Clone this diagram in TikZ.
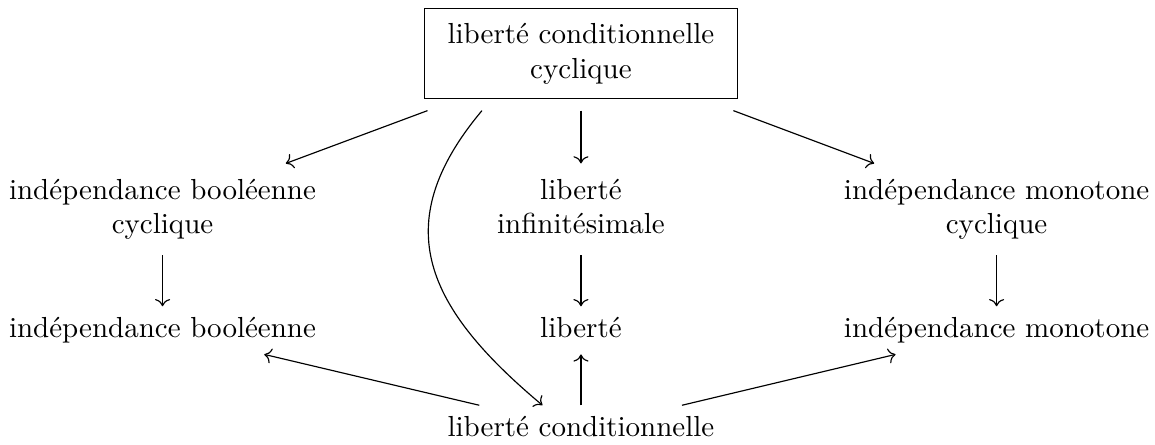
\documentclass[tikz,border=0pt]{standalone}
\usetikzlibrary{arrows.meta,positioning}
\tikzset{
  cell/.style={inner xsep=4.3pt,inner ysep=3.66pt,text height=6.94pt,text depth=1.94pt},
  celltwo/.style={inner xsep=4.3pt,minimum height=31.3pt,align=center},
  topbox/.style={draw,align=center,inner xsep=8pt,inner ysep=4.9pt,outer sep=4.3pt},
}

\begin{document}
\begin{tikzpicture}[scale=1.0]
\useasboundingbox (0,0) rectangle (14.0,-5.382);
% top box
\node[topbox] (lcc) at (7.042,-0.648) {liberté conditionnelle\\cyclique};

% cyclic / infinitesimal row
\node[celltwo] (ibc) at (1.97,-2.538) {indépendance booléenne\\cyclique};
\node[celltwo] (linf) at (7.042,-2.538) {liberté\\infinitésimale\vphantom{y}};
\node[celltwo] (imc) at (12.08,-2.538) {indépendance monotone\\cyclique};

% plain row
\node[cell] (ib) at (1.97,-4.004) {indépendance booléenne};
\node[cell] (lib) at (7.042,-4.004) {liberté};
\node[cell] (im) at (12.08,-4.004) {indépendance monotone};

% bottom
\node[cell] (lc) at (7.042,-5.204) {liberté conditionnelle};

\draw[->] (lcc) -- (ibc);
\draw[->] (lcc) -- (linf);
\draw[->] (lcc) -- (imc);
\draw[->] (ibc) -- (ib);
\draw[->] (linf) -- (lib);
\draw[->] (imc) -- (im);
\draw[->] (lc) -- (ib);
\draw[->] (lc) -- (lib);
\draw[->] (lc) -- (im);
% long bend on the left
\draw[->] (lcc.210) .. controls +(230:1.82) and +(140:1.82) .. (lc.148);
\end{tikzpicture}
\end{document}
